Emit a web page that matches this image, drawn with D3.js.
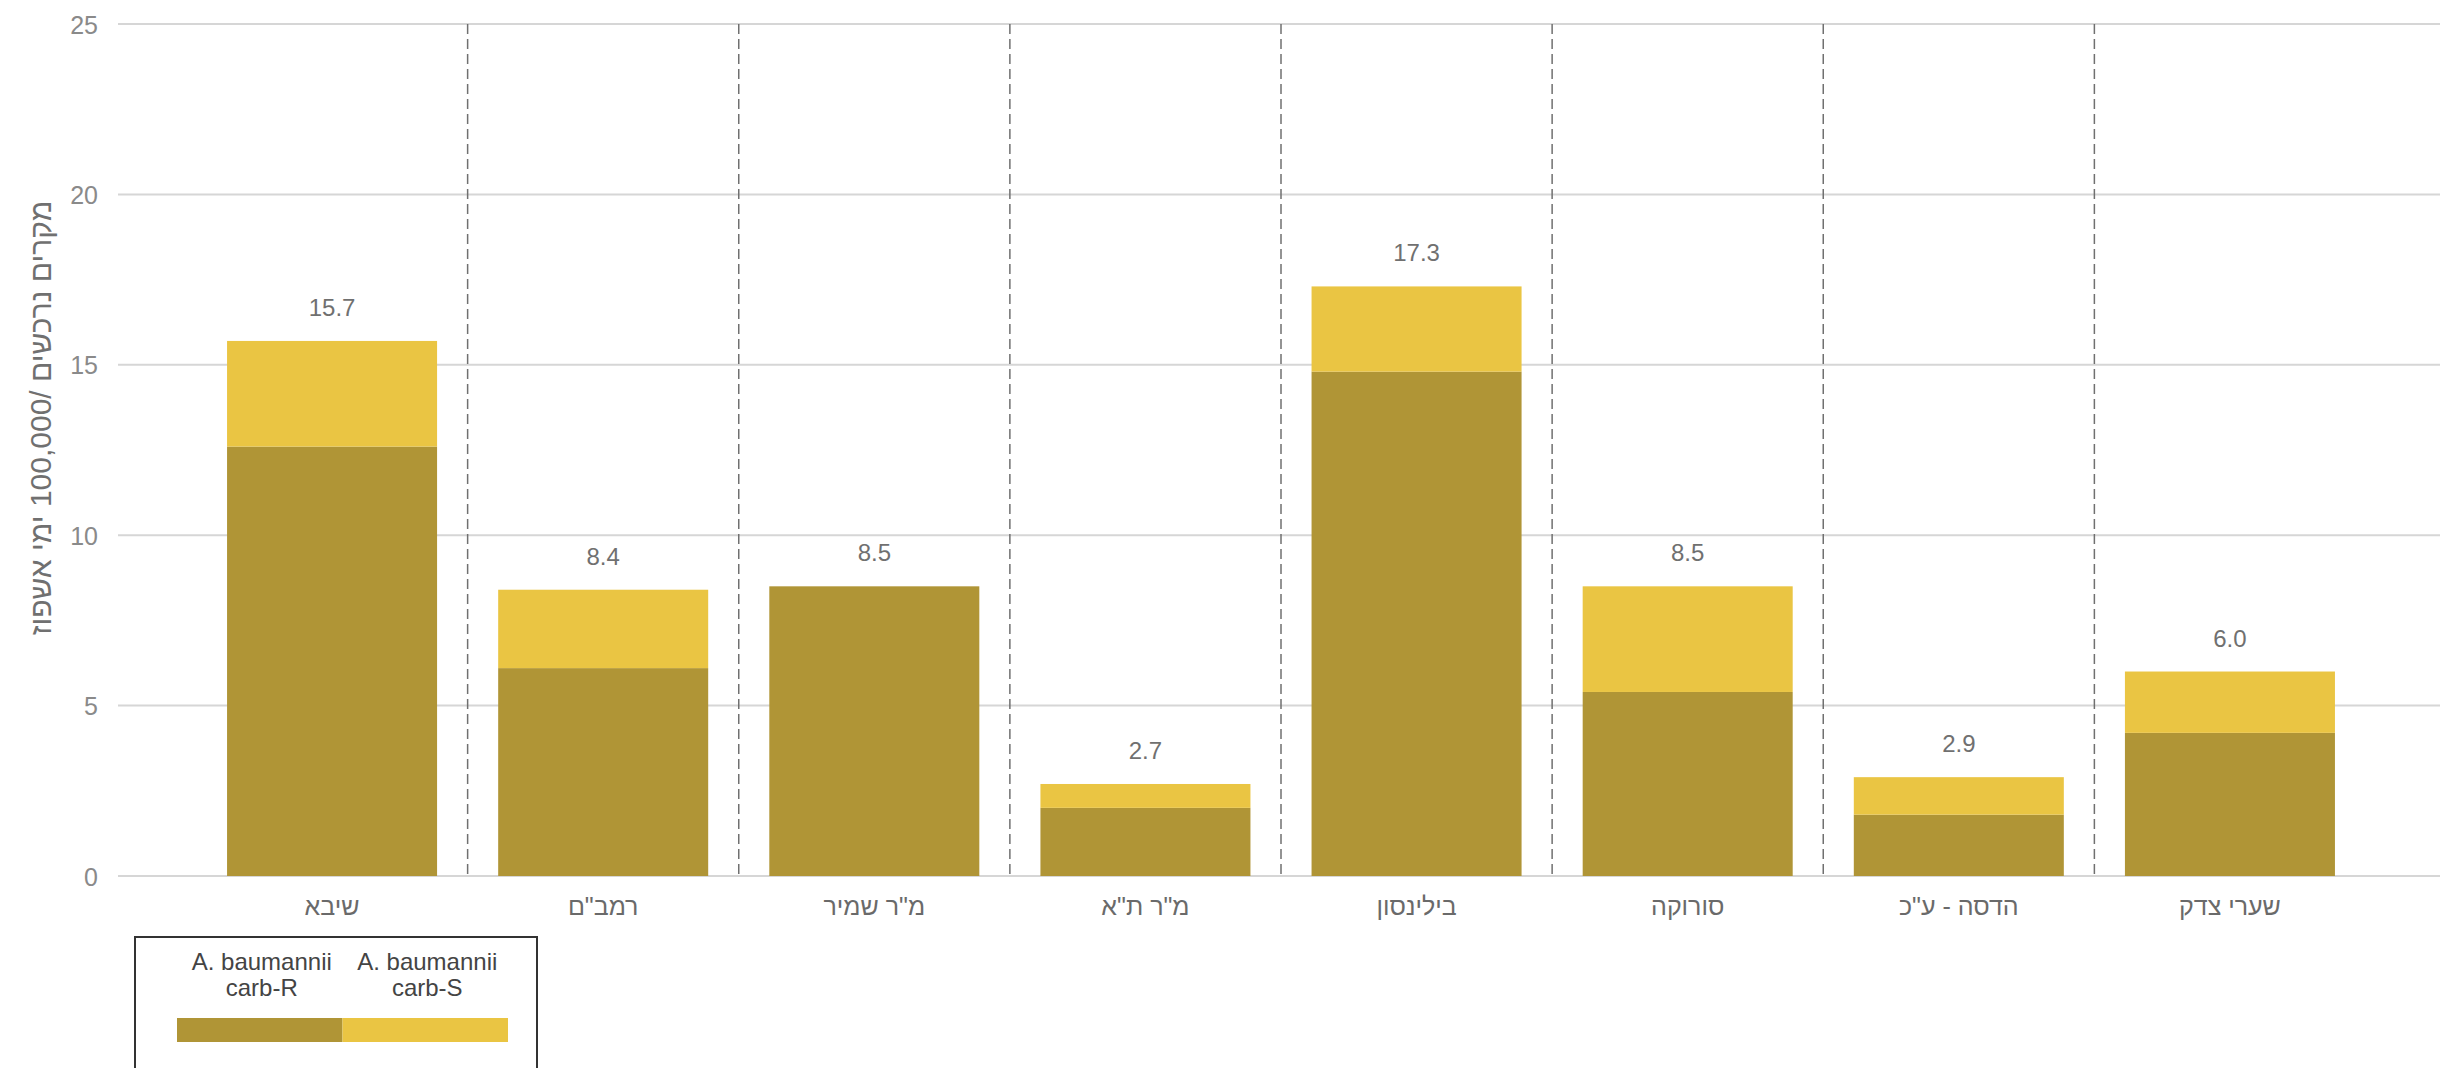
<!DOCTYPE html>
<html>
<head>
<meta charset="utf-8">
<script src="https://cdn.jsdelivr.net/npm/d3@7"></script>
<style>
  html, body { margin: 0; padding: 0; background: #ffffff; }
  svg { display: block; font-family: "Liberation Sans", Arial, sans-serif; }
</style>
</head>
<body>
<svg id="chart" width="2440" height="1068"></svg>
<script>
// ---- data ----
const categories = ["שיבא", "רמב\"ם", "מ\"ר שמיר", "מ\"ר ת\"א", "בילינסון", "סורוקה", "הדסה - ע\"כ", "שערי צדק"];
const carbR = [12.6, 6.1, 8.5, 2.0, 14.8, 5.4, 1.8, 4.2];
const carbS = [3.1, 2.3, 0.0, 0.7, 2.5, 3.1, 1.1, 1.8];
const seriesNames = [["A. baumannii", "carb-R"], ["A. baumannii", "carb-S"]];
const seriesKeys = ["carbR", "carbS"];
const yTicks = [0, 5, 10, 15, 20, 25];
const yTitle = "מקרים נרכשים /100,000 ימי אשפוז";

const colors = { carbR: "#B09536", carbS: "#EAC543" };

const rows = categories.map((c, i) => ({ cat: c, carbR: carbR[i], carbS: carbS[i] }));

const svg = d3.select("#chart");

const x = d3.scaleBand()
  .domain(categories)
  .range([196.5, 2365.5])
  .paddingInner(0.2254)
  .paddingOuter(0.1127);

const y = d3.scaleLinear().domain([0, 25]).range([876, 24]);

const gridLeft = 118, gridRight = 2440;

// gridlines
svg.append("g").selectAll("line").data(yTicks).join("line")
  .attr("x1", gridLeft).attr("x2", gridRight)
  .attr("y1", d => y(d)).attr("y2", d => y(d))
  .attr("stroke", "#d6d6d6").attr("stroke-width", 2);

// y tick labels via axis
const yAxis = d3.axisLeft(y).tickValues(yTicks).tickSize(0).tickPadding(0).tickFormat(d3.format("d"));
const gy = svg.append("g").attr("transform", `translate(98,0)`).call(yAxis);
gy.select(".domain").remove();
gy.selectAll("text")
  .attr("font-size", 25).attr("fill", "#8a8a8a")
  .attr("font-family", "Liberation Sans, Arial, sans-serif")
  .attr("dy", "0.36em");

// y title
svg.append("text")
  .attr("transform", `translate(40,418) rotate(-90)`)
  .attr("text-anchor", "middle")
  .attr("dominant-baseline", "central")
  .attr("direction", "rtl")
  .attr("font-size", 30).attr("fill", "#707070")
  .text(yTitle);

// separators (dashed)
const step = x.step();
const sepX = categories.slice(0, -1).map(c => x(c) + x.bandwidth() + step * x.paddingInner() / 2);
svg.append("g").selectAll("line").data(sepX).join("line")
  .attr("x1", d => d).attr("x2", d => d)
  .attr("y1", y(25)).attr("y2", y(0))
  .attr("stroke", "#707070").attr("stroke-width", 1.5)
  .attr("stroke-dasharray", "10,5");

// stacked bars
const stack = d3.stack().keys(seriesKeys)(rows);
svg.append("g").selectAll("g").data(stack).join("g")
  .attr("fill", d => colors[d.key])
  .selectAll("rect").data(d => d).join("rect")
  .attr("x", d => x(d.data.cat))
  .attr("width", x.bandwidth())
  .attr("y", d => y(d[1]))
  .attr("height", d => Math.max(0, y(d[0]) - y(d[1])));

// total labels
svg.append("g").selectAll("text").data(rows).join("text")
  .attr("x", d => x(d.cat) + x.bandwidth() / 2)
  .attr("y", d => y(d.carbR + d.carbS) - 25)
  .attr("text-anchor", "middle")
  .attr("font-size", 24).attr("fill", "#707070")
  .text(d => d3.format(".1f")(d.carbR + d.carbS));

// x axis labels
const xAxis = d3.axisBottom(x).tickSize(0).tickPadding(0);
const gx = svg.append("g").attr("transform", `translate(0,${y(0)})`).call(xAxis);
gx.select(".domain").remove();
gx.selectAll("text")
  .attr("font-size", 25).attr("fill", "#6a6a6a")
  .attr("font-family", "Liberation Sans, Arial, sans-serif")
  .attr("direction", "rtl")
  .attr("dy", 0).attr("y", 39);

// legend
const lg = svg.append("g");
lg.append("rect")
  .attr("x", 135).attr("y", 937).attr("width", 402).attr("height", 200)
  .attr("fill", "#fff").attr("stroke", "#333").attr("stroke-width", 2);
const swX = d3.scaleBand().domain(seriesKeys).range([177, 508]);
seriesKeys.forEach((k, i) => {
  lg.append("rect")
    .attr("x", swX(k)).attr("y", 1018)
    .attr("width", swX.bandwidth()).attr("height", 24)
    .attr("fill", colors[k]);
  const t = lg.append("text")
    .attr("text-anchor", "middle")
    .attr("font-size", 24).attr("fill", "#444");
  seriesNames[i].forEach((line, j) => {
    t.append("tspan")
      .attr("x", swX(k) + swX.bandwidth() / 2 + 2)
      .attr("y", 970 + j * 26)
      .text(line);
  });
});
</script>
</body>
</html>
